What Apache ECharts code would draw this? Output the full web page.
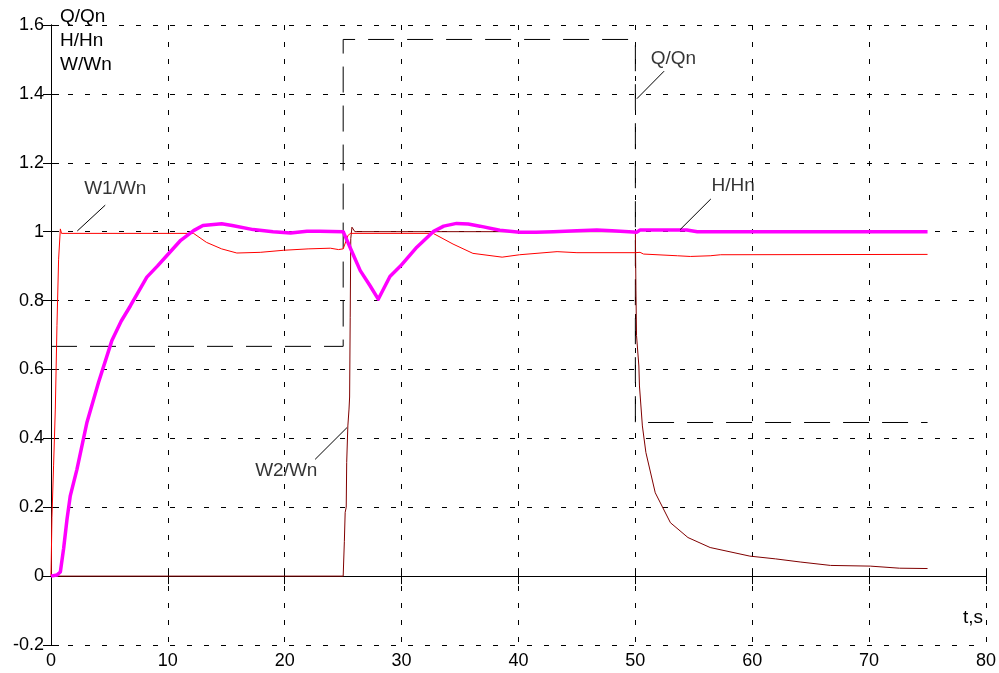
<!DOCTYPE html>
<html>
<head>
<meta charset="utf-8">
<script src="https://cdn.jsdelivr.net/npm/echarts@6/dist/echarts.min.js"></script>
<style>
  html, body { margin: 0; padding: 0; background: #fff; }
  #chart { width: 999px; height: 673px; }
</style>
</head>
<body>
<div id="chart"></div>
<script>
// t, s / relative value pairs
const qData = [[0, 0.667], [25, 0.667], [25, 1.558], [50, 1.558], [50, 0.446], [75, 0.446]]

const w2Data = [
  [0, 0], [25.0, 0], [25.1, 0.1], [25.17, 0.185], [25.26, 0.2], [25.3, 0.33], [25.4, 0.436],
  [25.5, 0.485], [25.55, 0.52], [25.6, 0.75], [25.65, 0.98], [25.75, 1.013], [26.0, 1.0],
  [50, 1.0], [50.05, 0.828], [50.1, 0.698], [50.3, 0.61], [50.35, 0.552], [50.6, 0.436],
  [50.9, 0.359], [51.7, 0.242], [53.0, 0.155], [54.5, 0.112], [56.4, 0.083], [59.8, 0.058],
  [62, 0.05], [64.1, 0.041], [66.7, 0.031], [70.1, 0.029], [72.6, 0.023], [75, 0.022]
]

const w1Data = [
  [0, 0], [0.08, 0.17], [0.22, 0.32], [0.37, 0.485], [0.51, 0.727], [0.65, 0.92], [0.8, 1.008],
  [0.9, 0.995], [12.2, 0.995], [13.3, 0.969], [14.6, 0.95], [15.9, 0.938], [17.9, 0.94],
  [19.9, 0.946], [22, 0.95], [23.9, 0.952], [24.6, 0.948], [25.0, 0.95], [25.4, 0.988],
  [25.6, 0.995], [32.7, 0.995], [34.4, 0.964], [36.1, 0.937], [38.6, 0.926], [40.1, 0.933],
  [43.3, 0.942], [45, 0.939], [50, 0.939], [50.4, 0.94], [50.7, 0.935], [53.6, 0.93],
  [54.7, 0.928], [56.4, 0.93], [57.3, 0.933], [75, 0.934]
]

const hData = [
  [0, 0], [0.5, 0.003], [0.8, 0.012], [1.08, 0.08], [1.37, 0.165], [1.65, 0.233], [2.22, 0.31],
  [3.08, 0.447], [4.07, 0.563], [5.2, 0.683], [6.0, 0.74], [6.8, 0.785], [8.2, 0.868],
  [9.1, 0.9], [9.9, 0.93], [11.1, 0.975], [12.2, 1.003], [13.0, 1.018], [14.6, 1.023],
  [15.5, 1.018], [17.3, 1.006], [19, 1.0], [20.5, 0.996], [21.9, 1.001], [23, 1.001],
  [25, 1.0], [25.9, 0.93], [26.46, 0.887], [27.3, 0.843], [28.0, 0.804], [29.0, 0.87],
  [29.9, 0.9], [31.3, 0.955], [32.7, 1.0], [33.6, 1.016], [34.7, 1.024], [35.7, 1.022],
  [36.7, 1.016], [38.4, 1.004], [40.1, 0.998], [41.5, 0.998], [43, 1.0], [45, 1.003],
  [46.7, 1.005], [48, 1.003], [49.8, 0.999], [50.1, 0.998], [50.4, 1.005], [54.4, 1.005],
  [55.3, 1.0], [75, 1.0]
]

// curve labels and their leader lines, in data units
const annoText = ['W1/Wn', 'W2/Wn', 'Q/Qn', 'H/Hn']
const annoPos = [[5.5, 1.124], [20.13, 0.305], [53.26, 1.502], [58.37, 1.134]]
const annoLeader = [
  [[4.64, 1.077], [2.25, 1.002]],
  [[22.6, 0.339], [25.32, 0.431]],
  [[52.46, 1.466], [50.13, 1.386]],
  [[56.46, 1.095], [53.83, 1.006]]
]

const FONT = '"Liberation Sans", Arial, sans-serif'

const chart = echarts.init(document.getElementById('chart'))

const lineBase = {
  type: 'line',
  showSymbol: false,
  silent: true,
  animation: false
}

const series = [
  Object.assign({}, lineBase, {
    name: 'Q/Qn',
    data: qData,
    lineStyle: { color: '#000', width: 1, type: [26, 13] }
  }),
  Object.assign({}, lineBase, {
    name: 'W2/Wn',
    data: w2Data,
    lineStyle: { color: '#800000', width: 1 }
  }),
  Object.assign({}, lineBase, {
    name: 'W1/Wn',
    data: w1Data,
    lineStyle: { color: '#ff0000', width: 1 }
  }),
  Object.assign({}, lineBase, {
    name: 'H/Hn',
    data: hData,
    lineStyle: { color: '#ff00ff', width: 3.5, join: 'round' }
  })
]

annoLeader.forEach(function (seg) {
  series.push(Object.assign({}, lineBase, {
    data: seg,
    lineStyle: { color: '#000', width: 1 }
  }))
})

series.push({
  type: 'scatter',
  silent: true,
  animation: false,
  symbolSize: 1,
  itemStyle: { color: 'rgba(0,0,0,0)' },
  data: annoPos.map(function (p, i) { return { value: p, name: annoText[i] } }),
  label: {
    show: true,
    position: 'inside',
    formatter: '{b}',
    color: '#000',
    fontSize: 19,
    fontFamily: FONT
  }
})

const axisLine = { show: true, lineStyle: { color: '#000', width: 1 } }
const axisTick = { show: true, inside: true, length: 8, lineStyle: { color: '#000' } }
const grid = { show: true, lineStyle: { color: '#000', width: 1, type: [5, 12] } }
const tickFont = { color: '#000', fontSize: 18, fontFamily: FONT }

chart.setOption({
  backgroundColor: '#fff',
  animation: false,
  grid: { left: 51, right: 13, top: 25, bottom: 28 },
  xAxis: [
    {
      type: 'value', min: 0, max: 80, interval: 10, position: 'bottom',
      axisLine: axisLine, axisTick: axisTick, splitLine: grid,
      axisLabel: Object.assign({ margin: 7 }, tickFont)
    },
    {
      type: 'value', min: 0, max: 80, interval: 10, position: 'top',
      axisLine: axisLine, axisTick: axisTick,
      splitLine: { show: false }, axisLabel: { show: false }
    }
  ],
  yAxis: [
    {
      type: 'value', min: -0.2, max: 1.6, interval: 0.2, position: 'left',
      axisLine: axisLine, axisTick: axisTick, splitLine: grid,
      axisLabel: Object.assign({
        margin: 7,
        formatter: function (v) { return String(+v.toFixed(1)) }
      }, tickFont)
    },
    {
      type: 'value', min: -0.2, max: 1.6, interval: 0.2, position: 'right',
      axisLine: axisLine, axisTick: axisTick,
      splitLine: { show: false }, axisLabel: { show: false }
    }
  ],
  graphic: [
    {
      type: 'text', left: 60, top: 5, silent: true,
      style: {
        text: 'Q/Qn\nH/Hn\nW/Wn', fill: '#000', font: '19px ' + FONT, lineHeight: 24
      }
    },
    {
      type: 'text', right: 16, top: 608, silent: true,
      style: { text: 't,s', fill: '#000', font: '19px ' + FONT }
    }
  ],
  series: series
})
</script>
</body>
</html>
